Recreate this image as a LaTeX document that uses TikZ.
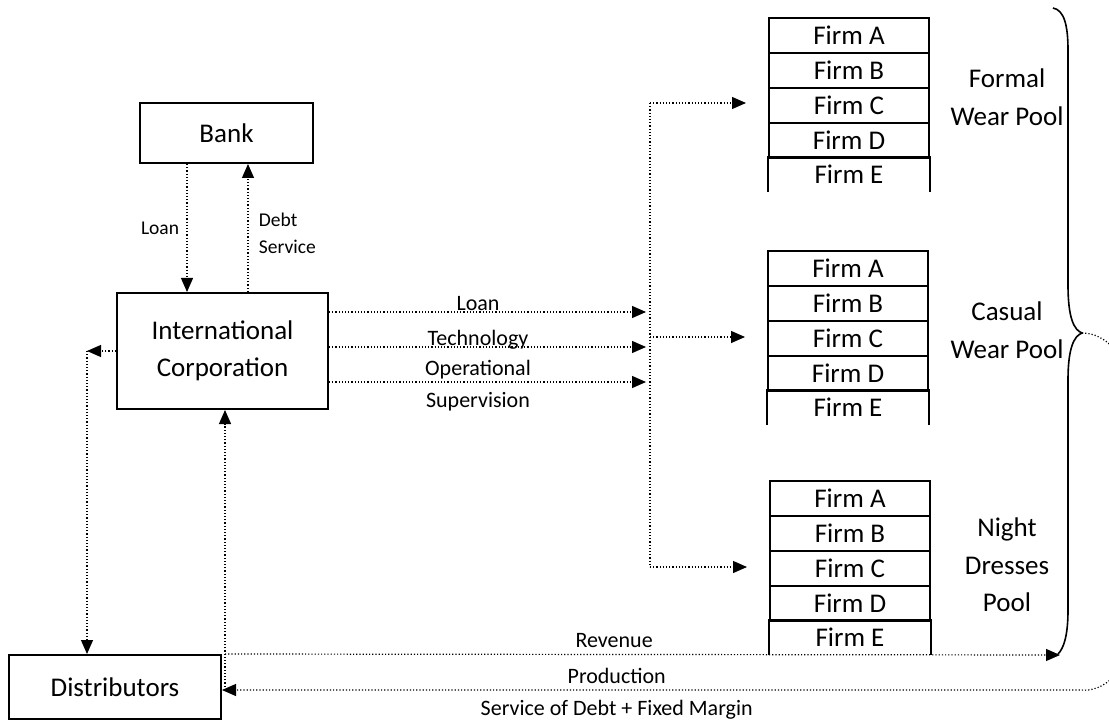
\documentclass[tikz,border=0pt]{standalone}
\usepackage{fontspec}
\setmainfont{Carlito}
\usetikzlibrary{arrows.meta}

\begin{document}
\begin{tikzpicture}[x=1pt, y=-1pt, every node/.style={font=\fontsize{27}{37.5}\selectfont},
    box/.style={draw, line width=2pt, inner sep=0pt, align=center},
    firm/.style={draw, line width=2pt, minimum width=160pt, minimum height=35pt, inner sep=0pt},
    flow/.style={dotted, line width=1.2pt, -{Triangle[length=14pt, width=12pt]}},
    lbl/.style={font=\fontsize{22}{32}\selectfont},
    small/.style={font=\fontsize{19.5}{27}\selectfont}]
    \useasboundingbox (0,0) rectangle (1109,722);

    %boxes
    \node (bank) at (226.5,133) [box, minimum width=173pt, minimum height=60pt] {Bank};
    \node (ic) at (222.5,351) [box, minimum width=211pt, minimum height=116pt] {International\\Corporation};
    \node (dist) at (115,687) [box, minimum width=212pt, minimum height=64pt] {Distributors};

    %firm pools
    \foreach \s/\x/\y in {1/849/18, 2/848/251, 3/850/481} {
        \foreach \f [count=\i] in {A,B,C,D}
            \node (s\s\f) at (\x,\y+35*\i-17.5) [firm] {Firm \f};
        \node (s\s E) at (\x,\y+156.5) [firm, draw=none, minimum height=33pt] {Firm E};
        \draw[line width=2pt] (s\s E.south west) -- (s\s E.north west) -- (s\s E.north east) -- (s\s E.south east);
    }
    \node (formal) at (1007,97) [align=center] {Formal\\Wear Pool};
    \node (casual) at (1007,330) [align=center] {Casual\\Wear Pool};
    \node (night) at (1007,565) [align=center] {Night\\Dresses\\Pool};

    %brace
    \coordinate (cusp) at (1082,333);
    \draw[line width=1.6pt] (1053,8) .. controls (1064,10) and (1068,25) .. (1068,50) -- (1068,285)
        .. controls (1068,318) and (1074,330) .. (cusp) .. controls (1074,336) and (1068,348) .. (1068,380)
        -- (1068,610) .. controls (1068,635) and (1064,648) .. (1058,654);

    %coordinates
    \coordinate (lo) at (187,0);
    \coordinate (ds) at (248,0);
    \coordinate (dl) at (87,351);
    \coordinate (up) at (225,690);
    \coordinate (rv) at (1060,655);
    \coordinate (j1) at (646,312);
    \coordinate (j2) at (646,347);
    \coordinate (j3) at (646,382);
    \coordinate (t1) at (650,103);
    \coordinate (t2) at (650,337);
    \coordinate (t3) at (650,567);

    %arrows
    \draw[flow] (bank.south -| lo) -- node[small, left=4pt] {Loan} (ic.north -| lo);
    \draw[flow] (ic.north -| ds) -- node[small, right=7pt, align=left, yshift=-5pt] {Debt\\Service} (bank.south -| ds);
    \draw[flow] (ic.east |- j1) -- node[lbl, pos=.47, above, inner sep=1pt, text depth=0pt] {Loan} (j1);
    \draw[flow] (ic.east |- j2) -- node[lbl, pos=.47, above, inner sep=1pt, text depth=0pt] {Technology} (j2);
    \draw[flow] (ic.east |- j3) -- node[lbl, pos=.47, align=center, yshift=-4pt] {Operational\\Supervision} (j3);
    \draw[dotted, line width=1.2pt] (t1) -- (t3);
    \draw[flow, shorten >=22pt] (t1) -- (t1 -| s1C.west);
    \draw[flow, shorten >=22pt] (t2) -- (t2 -| s2C.west);
    \draw[flow, shorten >=22pt] (t3) -- (t3 -| s3C.west);
    \draw[flow] (ic.west) -- (dl);
    \draw[flow] (dl) -- (dl |- dist.north);
    \draw[flow] (up) -- (up |- ic.south);
    \draw[flow] (up |- dist.north) -- node[lbl, pos=.466, above, inner sep=6pt] {Revenue} (rv);
    \draw[flow] (cusp) .. controls (1180,333) and (1180,700) .. (1080,690)
        -- node[lbl, pos=.54, align=center, yshift=-4pt] {Production\\Service of Debt + Fixed Margin} (dist.east |- up);

\end{tikzpicture}
\end{document}
